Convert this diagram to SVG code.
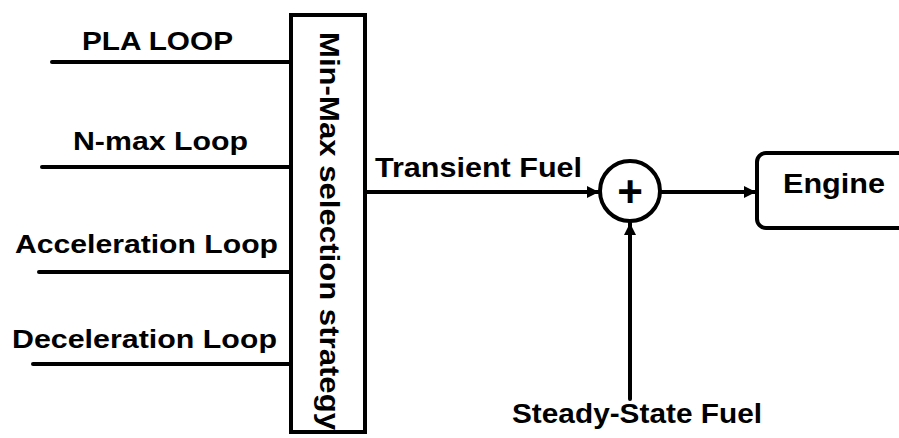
<svg xmlns="http://www.w3.org/2000/svg" width="899" height="438" viewBox="0 0 899 438">
<style>
.t{font-family:"Liberation Sans",Arial,sans-serif;font-weight:bold;fill:#000}
.l{stroke:#000;stroke-width:4;fill:none;stroke-linecap:round}
.s{stroke:#000;stroke-width:4;fill:#fff}
</style>
<defs>
<marker id="ah" viewBox="0 0 10 10" refX="10" refY="5" markerWidth="12" markerHeight="12" markerUnits="userSpaceOnUse" orient="auto">
<path d="M0,0 L10,5 L0,10 Z" fill="#000"/>
</marker>
</defs>
<rect width="899" height="438" fill="#fff"/>
<g id="connectors">
<line class="l" x1="52" y1="62" x2="291" y2="62"/>
<line class="l" x1="42" y1="167" x2="291" y2="167"/>
<line class="l" x1="39" y1="272" x2="291" y2="272"/>
<line class="l" x1="33" y1="364" x2="291" y2="364"/>
<line class="l" x1="365" y1="192" x2="599" y2="192" marker-end="url(#ah)"/>
<line class="l" x1="661" y1="192" x2="756" y2="192" marker-end="url(#ah)"/>
<line class="l" x1="630" y1="399" x2="630" y2="223" marker-end="url(#ah)"/>
</g>
<g id="labels">
<text class="t" x="82" y="50" font-size="26" textLength="151" lengthAdjust="spacingAndGlyphs">PLA LOOP</text>
<text class="t" x="73" y="150" font-size="26" textLength="175" lengthAdjust="spacingAndGlyphs">N-max Loop</text>
<text class="t" x="15" y="253" font-size="26" textLength="263" lengthAdjust="spacingAndGlyphs">Acceleration Loop</text>
<text class="t" x="12" y="348" font-size="26" textLength="265" lengthAdjust="spacingAndGlyphs">Deceleration Loop</text>
<text class="t" x="375" y="177" font-size="27" textLength="207" lengthAdjust="spacingAndGlyphs">Transient Fuel</text>
<text class="t" x="512" y="423" font-size="27" textLength="250" lengthAdjust="spacingAndGlyphs">Steady-State Fuel</text>
</g>
<g id="selector">
<rect class="s" x="291" y="15" width="74" height="417"/>
<text class="t" transform="translate(320,32) rotate(90)" font-size="28" textLength="398" lengthAdjust="spacingAndGlyphs">Min-Max selection strategy</text>
</g>
<g id="sum">
<circle class="s" cx="630" cy="191" r="30"/>
<text class="t" x="630" y="207" font-size="44" text-anchor="middle">+</text>
</g>
<g id="engine">
<rect class="s" x="757" y="153" width="170" height="75" rx="9"/>
<text class="t" x="783" y="193" font-size="27" textLength="102" lengthAdjust="spacingAndGlyphs">Engine</text>
</g>
</svg>
